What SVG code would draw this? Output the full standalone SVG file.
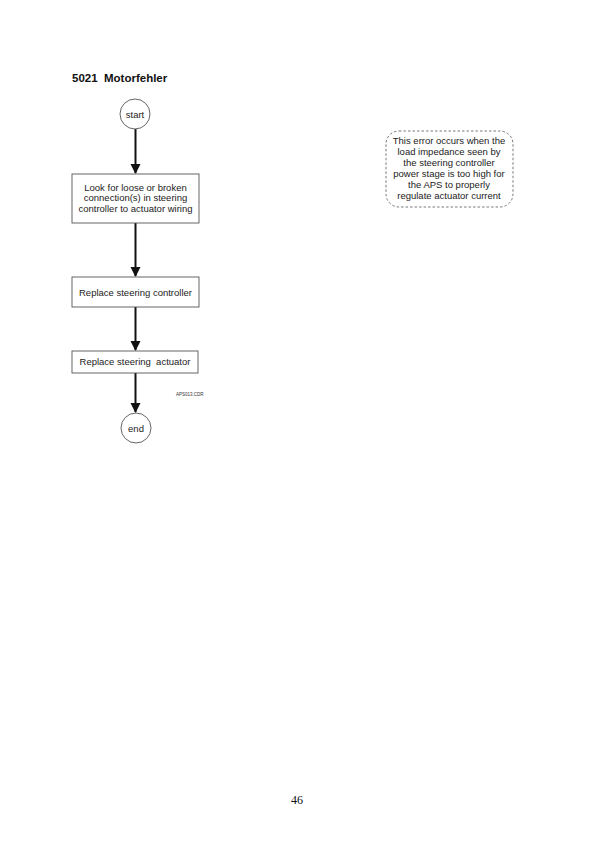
<svg xmlns="http://www.w3.org/2000/svg" width="595" height="842" viewBox="0 0 595 842">
<style>
.t{font-family:"Liberation Sans",Arial,sans-serif;font-size:9.5px;fill:#222;text-anchor:middle}
.box{fill:#fff;stroke:#555;stroke-width:0.9}
.conn{stroke:#111;stroke-width:2;fill:none}
</style>
<defs>
<marker id="ah" markerWidth="10" markerHeight="12" refX="9" refY="5" orient="auto" markerUnits="userSpaceOnUse" viewBox="0 0 10 12">
<path d="M0,0 L10,5 L0,10 z" fill="#111"/>
</marker>
</defs>
<rect width="595" height="842" fill="#fff"/>
<text x="72" y="82" xml:space="preserve" style="font-family:'Liberation Sans',Arial,sans-serif;font-size:11.5px;font-weight:bold;fill:#111">5021  Motorfehler</text>
<g id="connectors">
<line class="conn" x1="135.5" y1="129" x2="135.5" y2="173" marker-end="url(#ah)"/>
<line class="conn" x1="135.5" y1="223" x2="135.5" y2="276" marker-end="url(#ah)"/>
<line class="conn" x1="135.5" y1="307" x2="135.5" y2="350" marker-end="url(#ah)"/>
<line class="conn" x1="135.5" y1="373" x2="135.5" y2="412" marker-end="url(#ah)"/>
</g>
<g id="start">
<circle class="box" cx="135" cy="114" r="15"/>
<text class="t" x="135" y="117.5">start</text>
</g>
<g id="check">
<rect class="box" x="72" y="174" width="127" height="49"/>
<text class="t" x="135.5" y="190.5">Look for loose or broken</text>
<text class="t" x="135.5" y="201">connection(s) in steering</text>
<text class="t" x="135.5" y="212">controller to actuator wiring</text>
</g>
<g id="replace-controller">
<rect class="box" x="72" y="277" width="127" height="30"/>
<text class="t" x="135.5" y="295.5">Replace steering controller</text>
</g>
<g id="replace-actuator">
<rect class="box" x="72" y="351" width="126" height="22"/>
<text class="t" x="135" y="365" xml:space="preserve">Replace steering  actuator</text>
</g>
<g id="end">
<circle class="box" cx="136" cy="428" r="15"/>
<text class="t" x="136" y="431.5">end</text>
</g>
<text x="176" y="396" style="font-family:'Liberation Sans',Arial,sans-serif;font-size:4.5px;fill:#333">APS013.CDR</text>
<g id="note">
<rect x="386" y="131" width="127" height="76" rx="13" fill="#fff" stroke="#555" stroke-width="0.8" stroke-dasharray="2.5,2"/>
<text class="t" x="449" y="143.5">This error occurs when the</text>
<text class="t" x="449" y="154.5">load impedance seen by</text>
<text class="t" x="449" y="165.5">the steering controller</text>
<text class="t" x="449" y="176.5">power stage is too high for</text>
<text class="t" x="449" y="187.5">the APS to properly</text>
<text class="t" x="449" y="198.5">regulate actuator current</text>
</g>
<text x="297" y="804" style="font-family:'Liberation Serif','Times New Roman',serif;font-size:12px;fill:#111;text-anchor:middle">46</text>
</svg>
